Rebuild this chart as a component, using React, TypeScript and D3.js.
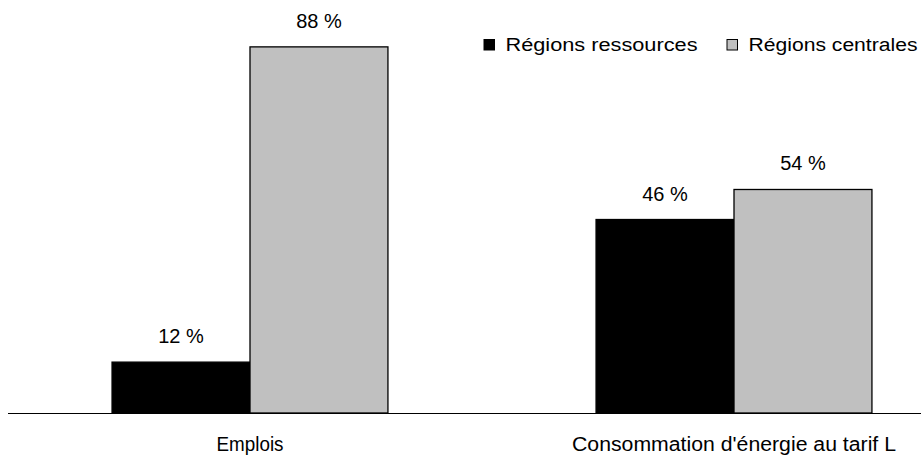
import React from "react";
import * as d3 from "d3";

const categories = ["Emplois", "Consommation d'énergie au tarif L"];
const seriesNames = ["Régions ressources", "Régions centrales"];
const ressources = [12.2, 46.4];
const centrales = [87.8, 53.6];
const seriesColors = ["#000000", "#c0c0c0"];

const W = 921;
const H = 456;

export default function App() {
  const x0 = d3
    .scaleBand<string>()
    .domain(categories)
    .range([8, 976])
    .paddingInner(0.43)
    .paddingOuter(0.215);
  const x1 = d3
    .scaleBand<string>()
    .domain(seriesNames)
    .range([0, x0.bandwidth()]);
  const y = d3.scaleLinear().domain([0, 100]).range([413, -4]);
  const series = [ressources, centrales];
  const font = "'Liberation Sans', Arial, sans-serif";
  const catLen = [67, 324];
  const legLen = [192, 169];
  const legX = [484, 727];

  return (
    <svg
      width={W}
      height={H}
      style={{ position: "absolute", left: 0, top: 0, background: "#fff" }}
      fontFamily={font}
    >
      {categories.map((c, ci) =>
        seriesNames.map((s, si) => {
          const v = series[si][ci];
          const bx = (x0(c) ?? 0) + (x1(s) ?? 0);
          const bw = x1.bandwidth();
          return (
            <g key={c + s}>
              <rect
                x={bx}
                y={y(v)}
                width={bw}
                height={y(0) - y(v)}
                fill={seriesColors[si]}
                stroke="#000"
                strokeWidth={1.3}
              />
              <text
                x={bx + bw / 2}
                y={y(v) - 19}
                textAnchor="middle"
                fontSize={20}
                fill="#000"
              >
                {`${Math.round(v)} %`}
              </text>
            </g>
          );
        })
      )}
      <line x1={8} x2={W} y1={413.5} y2={413.5} stroke="#000" strokeWidth={1.2} />
      {categories.map((c, ci) => (
        <text
          key={c}
          x={(x0(c) ?? 0) + x0.bandwidth() / 2}
          y={451}
          textAnchor="middle"
          fontSize={19.5}
          textLength={catLen[ci]}
          lengthAdjust="spacingAndGlyphs"
          fill="#000"
        >
          {c}
        </text>
      ))}
      {seriesNames.map((s, si) => (
        <g key={s}>
          <rect
            x={legX[si]}
            y={39.5}
            width={10.5}
            height={10.5}
            fill={seriesColors[si]}
            stroke="#000"
            strokeWidth={1}
          />
          <text
            x={legX[si] + 21.5}
            y={51}
            fontSize={18}
            textLength={legLen[si]}
            lengthAdjust="spacingAndGlyphs"
            fill="#000"
          >
            {s}
          </text>
        </g>
      ))}
    </svg>
  );
}
